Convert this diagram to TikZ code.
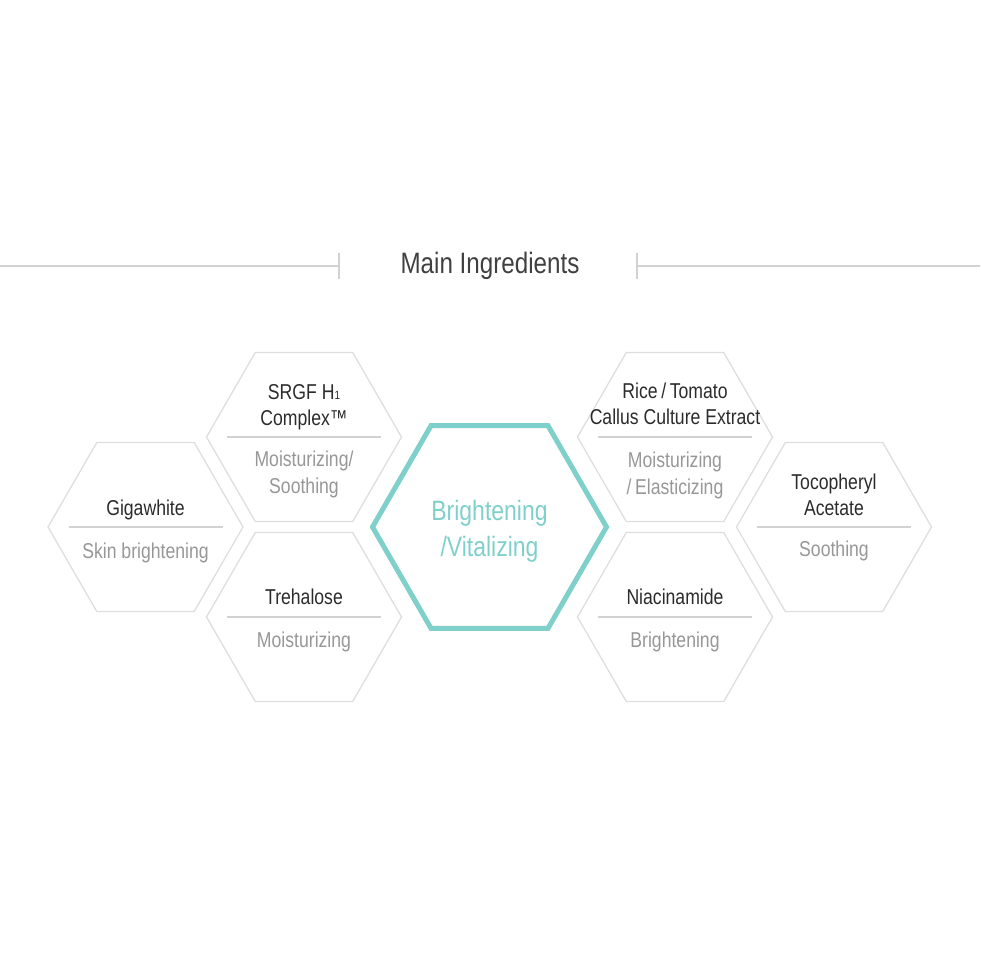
\documentclass[tikz,border=0pt]{standalone}
\usepackage{fontspec}
\setmainfont{Liberation Sans}[FakeStretch=0.82]
\usepackage{tikz}
\usetikzlibrary{positioning, shapes.geometric}

\definecolor{hexgray}{HTML}{DEDEDE}
\definecolor{rulegray}{HTML}{D2D2D2}
\definecolor{namegray}{HTML}{2B2B2B}
\definecolor{descgray}{HTML}{979797}
\definecolor{mint}{HTML}{7FD0CB}

\begin{document}
\begin{tikzpicture}[
    x=1pt, y=1pt,
    hexa/.style={regular polygon, regular polygon sides=6,
                 minimum size=195pt, inner sep=0pt, draw=hexgray, line width=1.3pt},
    bighexa/.style={hexa, minimum size=234pt, draw=mint, line width=5pt},
    divider/.style={rulegray, line width=1.1pt},
    ingr/.style={font=\fontsize{21.5}{26}\selectfont, text=namegray, align=center,
                 inner sep=0pt, anchor=base},
    effect/.style={font=\fontsize{21.5}{27}\selectfont, text=descgray, align=center,
                 inner sep=0pt, anchor=base},
    heading/.style={font=\fontsize{29.5}{32}\selectfont, text=namegray!90, inner sep=0pt},
]
\useasboundingbox (0,0) rectangle (980,980);

% Heading
\node[heading] (title) at (490,714) {Main Ingredients};
\coordinate (ltick) at (339,714);
\coordinate (rtick) at (637,714);
\coordinate (lend) at (0,714);
\coordinate (rend) at (980,714);
\draw[divider] (lend) -- (ltick);
\draw[divider] (rtick) -- (rend);
\draw[divider] ([yshift=13pt]ltick) -- ([yshift=-13pt]ltick);
\draw[divider] ([yshift=13pt]rtick) -- ([yshift=-13pt]rtick);

% Centre
\node[bighexa] (core) at (489.5,453) {};
\node[font=\fontsize{28}{36}\selectfont, text=mint, align=center, inner sep=0pt, anchor=base]
    (corelabel) at ([yshift=-30pt]core.center) {Brightening\\/Vitalizing};

% Left cluster
\node[hexa] (gw) at (145.5,453) {};
\node[hexa] (srgf) at (304,543) {};
\node[hexa] (tre) at (304,363) {};

% Right cluster
\node[hexa] (rice) at (675,543) {};
\node[hexa] (nia) at (675,363) {};
\node[hexa] (toco) at (834,453) {};

% Dividers
\foreach \h in {gw,srgf,tre,rice,nia,toco} {
    \draw[divider] ([xshift=-77pt]\h.center) -- ([xshift=77pt]\h.center);
}

% Ingredient names
\node[ingr] (gwname) at ([yshift=11.5pt]gw.center) {Gigawhite};
\node[ingr] (srgfname) at ([yshift=11pt]srgf.center)
    {SRGF H{\fontsize{12}{12}\selectfont 1}\\Complex™};
\node[ingr] (trename) at ([yshift=12pt]tre.center) {Trehalose};
\node[ingr] (ricename) at ([yshift=12pt]rice.center) {Rice\,/\,Tomato\\Callus Culture Extract};
\node[ingr] (nianame) at ([yshift=12pt]nia.center) {Niacinamide};
\node[ingr] (toconame) at ([yshift=11pt]toco.center) {Tocopheryl\\Acetate};

% Effects
\node[effect] (gwdesc) at ([yshift=-32pt]gw.center) {Skin brightening};
\node[effect] (srgfdesc) at ([yshift=-57pt]srgf.center) {Moisturizing/\\Soothing};
\node[effect] (tredesc) at ([yshift=-31pt]tre.center) {Moisturizing};
\node[effect] (ricedesc) at ([yshift=-58pt]rice.center) {Moisturizing\\/\,Elasticizing};
\node[effect] (niadesc) at ([yshift=-31pt]nia.center) {Brightening};
\node[effect] (tocodesc) at ([yshift=-30pt]toco.center) {Soothing};

\end{tikzpicture}
\end{document}
